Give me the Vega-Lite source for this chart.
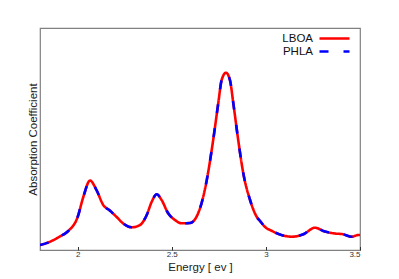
{
  "$schema": "https://vega.github.io/schema/vega-lite/v6.json",
  "width": 320,
  "height": 222,
  "autosize": {"type": "none"},
  "padding": {"left": 40, "top": 28, "right": 39, "bottom": 29},
  "background": "white",
  "config": {
    "view": {"stroke": "#808080", "strokeWidth": 1.2},
    "font": "Liberation Sans"
  },
  "data": {
    "values": [
      {"e": 1.8, "LBOA": 5, "PHLA": 5}, {"e": 1.85, "LBOA": 8, "PHLA": 8}, {"e": 1.9, "LBOA": 13, "PHLA": 13}, {"e": 1.95, "LBOA": 19, "PHLA": 19},
      {"e": 2.0, "LBOA": 33, "PHLA": 33}, {"e": 2.03, "LBOA": 53, "PHLA": 53}, {"e": 2.066, "LBOA": 69.5, "PHLA": 69.5}, {"e": 2.1, "LBOA": 60, "PHLA": 60},
      {"e": 2.136, "LBOA": 45, "PHLA": 45}, {"e": 2.171, "LBOA": 39.5, "PHLA": 39.5}, {"e": 2.207, "LBOA": 33, "PHLA": 33}, {"e": 2.242, "LBOA": 26.5, "PHLA": 26.5},
      {"e": 2.287, "LBOA": 22.7, "PHLA": 22.7}, {"e": 2.331, "LBOA": 25, "PHLA": 25}, {"e": 2.367, "LBOA": 35, "PHLA": 35}, {"e": 2.393, "LBOA": 48, "PHLA": 48},
      {"e": 2.42, "LBOA": 55.7, "PHLA": 55.7}, {"e": 2.446, "LBOA": 50, "PHLA": 50}, {"e": 2.481, "LBOA": 36.7, "PHLA": 36.7}, {"e": 2.517, "LBOA": 30, "PHLA": 30},
      {"e": 2.552, "LBOA": 26.7, "PHLA": 26.7}, {"e": 2.597, "LBOA": 27, "PHLA": 27}, {"e": 2.65, "LBOA": 41.7, "PHLA": 41.7}, {"e": 2.686, "LBOA": 70, "PHLA": 70},
      {"e": 2.72, "LBOA": 110, "PHLA": 110}, {"e": 2.747, "LBOA": 146.7, "PHLA": 146.7}, {"e": 2.765, "LBOA": 170, "PHLA": 170}, {"e": 2.788, "LBOA": 177.3, "PHLA": 177.3},
      {"e": 2.809, "LBOA": 170, "PHLA": 170}, {"e": 2.827, "LBOA": 146.7, "PHLA": 146.7}, {"e": 2.853, "LBOA": 110, "PHLA": 110}, {"e": 2.88, "LBOA": 76.7, "PHLA": 76.7},
      {"e": 2.916, "LBOA": 50, "PHLA": 50}, {"e": 2.951, "LBOA": 33.3, "PHLA": 33.3}, {"e": 2.969, "LBOA": 29, "PHLA": 29}, {"e": 3.004, "LBOA": 21.7, "PHLA": 21.7},
      {"e": 3.022, "LBOA": 20, "PHLA": 20}, {"e": 3.075, "LBOA": 15.5, "PHLA": 15.5}, {"e": 3.137, "LBOA": 13.3, "PHLA": 13.3}, {"e": 3.199, "LBOA": 15.7, "PHLA": 15.7},
      {"e": 3.261, "LBOA": 22.3, "PHLA": 22.3}, {"e": 3.305, "LBOA": 19, "PHLA": 19}, {"e": 3.358, "LBOA": 16.7, "PHLA": 16.7}, {"e": 3.411, "LBOA": 15.7, "PHLA": 15.7},
      {"e": 3.456, "LBOA": 13.3, "PHLA": 13.3}, {"e": 3.491, "LBOA": 15, "PHLA": 15}, {"e": 3.5, "LBOA": 15, "PHLA": 15}
    ]
  },
  "transform": [
    {"fold": ["LBOA", "PHLA"], "as": ["series", "value"]}
  ],
  "mark": {"type": "line", "interpolate": "monotone", "strokeWidth": 2.6, "clip": true},
  "encoding": {
    "x": {
      "field": "e", "type": "quantitative",
      "scale": {"domain": [1.8, 3.5], "nice": false, "zero": false},
      "axis": {
        "values": [2, 2.5, 3, 3.5],
        "format": "~g",
        "title": "Energy [ ev ]",
        "titleFont": "Liberation Sans", "titleFontSize": 11.5, "titleFontWeight": "normal", "titleColor": "#222",
        "titlePadding": 3,
        "labelFont": "Liberation Sans", "labelFontSize": 8, "labelColor": "#333",
        "labelPadding": 4,
        "tickSize": -3.5, "tickColor": "#333", "tickWidth": 1,
        "domain": false, "grid": false
      }
    },
    "y": {
      "field": "value", "type": "quantitative",
      "scale": {"domain": [0, 222], "nice": false},
      "axis": {
        "title": "Absorption Coefficient",
        "titleFont": "Liberation Sans", "titleFontSize": 11.5, "titleFontWeight": "normal", "titleColor": "#222",
        "titlePadding": 2,
        "labels": false, "ticks": false, "domain": false, "grid": false
      }
    },
    "color": {
      "field": "series", "type": "nominal",
      "scale": {"domain": ["LBOA", "PHLA"], "range": ["#ff0000", "#0000ff"]},
      "legend": {
        "title": null,
        "orient": "none",
        "legendX": 288, "legendY": 4,
        "symbolType": "M-3,0H3",
        "symbolSize": 100,
        "symbolStrokeWidth": 2.6,
        "symbolFillColor": "transparent",
        "labelAlign": "right",
        "labelOffset": -28,
        "labelFont": "Liberation Sans", "labelFontSize": 11.5, "labelColor": "#111",
        "rowPadding": 1
      }
    },
    "strokeDash": {
      "field": "series", "type": "nominal",
      "scale": {"domain": ["LBOA", "PHLA"], "range": [[1, 0], [9, 15]]},
      "legend": null
    }
  }
}
